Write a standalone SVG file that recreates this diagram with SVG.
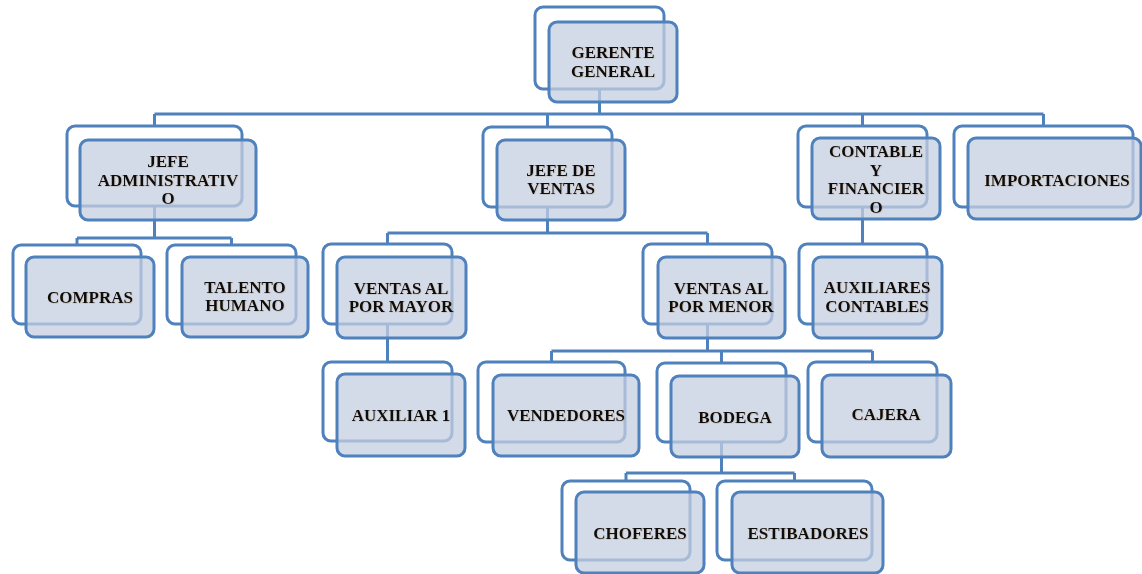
<svg xmlns="http://www.w3.org/2000/svg" width="1142" height="574" viewBox="0 0 1142 574">
<style>
.bk{fill:#ffffff;stroke:#4F81BD;stroke-width:3}
.fr{fill:#C4CEE0;fill-opacity:0.75;stroke:#4F81BD;stroke-width:3}
.cn{fill:none;stroke:#4F81BD;stroke-width:3}
text{font-family:"Liberation Serif","Times New Roman",serif;font-weight:bold;font-size:17px;fill:#0a0a0a;text-anchor:middle;filter:url(#sh)}
</style>
<defs>
<filter id="sh" x="-10%" y="-30%" width="120%" height="160%">
<feDropShadow dx="0.6" dy="0.6" stdDeviation="0.3" flood-color="#9a7a50" flood-opacity="0.35"/>
</filter>
</defs>
<rect width="1142" height="574" fill="#ffffff"/>
<g id="connectors">
<path class="cn" d="M599.5,89V114M154.5,114H1043.5M154.5,114V126M547.5,114V127M862.5,114V126M1043.5,114V126"/>
<path class="cn" d="M154.5,206V238M77,238H231.5M77,238V245M231.5,238V245"/>
<path class="cn" d="M547.5,207V233M387.5,233H707.5M387.5,233V244M707.5,233V244"/>
<path class="cn" d="M862.5,207V244"/>
<path class="cn" d="M387.5,324V362"/>
<path class="cn" d="M707.5,324V351M551.5,351H872.5M551.5,351V362M721.5,351V363M872.5,351V362"/>
<path class="cn" d="M721.5,442V473M626,473H794.5M626,473V481M794.5,473V481"/>
</g>
<g id="gerente">
<rect class="bk" x="535" y="7" width="129" height="82" rx="8"/>
<rect class="fr" x="549" y="22" width="128" height="80" rx="8"/>
<text x="613" y="58">GERENTE</text><text x="613" y="76.5">GENERAL</text>
</g>
<g id="jefe-admin">
<rect class="bk" x="67" y="126" width="175" height="80" rx="8"/>
<rect class="fr" x="80" y="140" width="176" height="80" rx="8"/>
<text x="168" y="167">JEFE</text><text x="168" y="185.5">ADMINISTRATIV</text><text x="168" y="204">O</text>
</g>
<g id="jefe-ventas">
<rect class="bk" x="483" y="127" width="129" height="80" rx="8"/>
<rect class="fr" x="497" y="140" width="128" height="80" rx="8"/>
<text x="561" y="175.5">JEFE DE</text><text x="561" y="194">VENTAS</text>
</g>
<g id="contable">
<rect class="bk" x="798" y="126" width="129" height="81" rx="8"/>
<rect class="fr" x="812" y="138" width="128" height="81" rx="8"/>
<text x="876" y="157">CONTABLE</text><text x="876" y="175.5">Y</text><text x="876" y="194">FINANCIER</text><text x="876" y="212.5">O</text>
</g>
<g id="importaciones">
<rect class="bk" x="954" y="126" width="179" height="81" rx="8"/>
<rect class="fr" x="968" y="138" width="173" height="81" rx="8"/>
<text x="1057" y="186">IMPORTACIONES</text>
</g>
<g id="compras">
<rect class="bk" x="13" y="245" width="128" height="79" rx="8"/>
<rect class="fr" x="26" y="257" width="128" height="80" rx="8"/>
<text x="90" y="303">COMPRAS</text>
</g>
<g id="talento">
<rect class="bk" x="167" y="245" width="129" height="79" rx="8"/>
<rect class="fr" x="182" y="257" width="126" height="80" rx="8"/>
<text x="245" y="292.5">TALENTO</text><text x="245" y="311">HUMANO</text>
</g>
<g id="ventas-mayor">
<rect class="bk" x="323" y="244" width="129" height="80" rx="8"/>
<rect class="fr" x="337" y="257" width="129" height="81" rx="8"/>
<text x="401" y="293.5">VENTAS AL</text><text x="401" y="312">POR MAYOR</text>
</g>
<g id="ventas-menor">
<rect class="bk" x="643" y="244" width="129" height="80" rx="8"/>
<rect class="fr" x="658" y="257" width="127" height="81" rx="8"/>
<text x="721" y="293.5">VENTAS AL</text><text x="721" y="312">POR MENOR</text>
</g>
<g id="aux-contables">
<rect class="bk" x="799" y="244" width="128" height="80" rx="8"/>
<rect class="fr" x="813" y="257" width="129" height="81" rx="8"/>
<text x="877" y="293">AUXILIARES</text><text x="877" y="311.5">CONTABLES</text>
</g>
<g id="auxiliar1">
<rect class="bk" x="323" y="362" width="129" height="79" rx="8"/>
<rect class="fr" x="337" y="374" width="128" height="82" rx="8"/>
<text x="401" y="421">AUXILIAR 1</text>
</g>
<g id="vendedores">
<rect class="bk" x="478" y="362" width="147" height="80" rx="8"/>
<rect class="fr" x="493" y="375" width="146" height="81" rx="8"/>
<text x="566" y="421">VENDEDORES</text>
</g>
<g id="bodega">
<rect class="bk" x="657" y="363" width="129" height="79" rx="8"/>
<rect class="fr" x="671" y="376" width="128" height="81" rx="8"/>
<text x="735" y="423">BODEGA</text>
</g>
<g id="cajera">
<rect class="bk" x="808" y="362" width="129" height="80" rx="8"/>
<rect class="fr" x="822" y="375" width="129" height="82" rx="8"/>
<text x="886" y="420">CAJERA</text>
</g>
<g id="choferes">
<rect class="bk" x="562" y="481" width="128" height="79" rx="8"/>
<rect class="fr" x="576" y="492" width="128" height="81" rx="8"/>
<text x="640" y="539">CHOFERES</text>
</g>
<g id="estibadores">
<rect class="bk" x="717" y="481" width="155" height="79" rx="8"/>
<rect class="fr" x="732" y="492" width="151" height="81" rx="8"/>
<text x="808" y="539">ESTIBADORES</text>
</g>
</svg>
